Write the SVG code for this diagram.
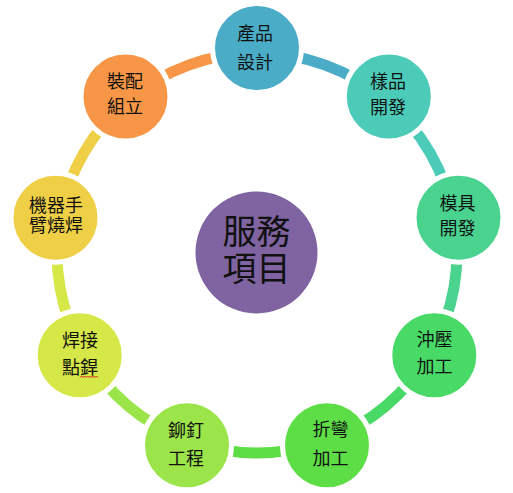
<svg xmlns="http://www.w3.org/2000/svg" width="513" height="493" viewBox="0 0 513 493">
<style>
.arc{fill:none;stroke-width:11}
.node{stroke:#fff;stroke-width:5}
text{font-family:"Noto Sans CJK TC","Noto Sans CJK SC",sans-serif;font-size:18px;fill:#111;text-anchor:middle}
.big{font-size:34px}
</style>
<rect width="513" height="493" fill="#fff"/>
<g id="connectors">
<path class="arc" stroke="#4AACC6" d="M257,53 A200,200 0 0 1 385.56,99.79"/>
<path class="arc" stroke="#4BCBB8" d="M385.56,99.79 A200,200 0 0 1 453.96,218.27"/>
<path class="arc" stroke="#49D38F" d="M453.96,218.27 A200,200 0 0 1 430.21,353"/>
<path class="arc" stroke="#48D966" d="M430.21,353 A200,200 0 0 1 325.4,440.94"/>
<path class="arc" stroke="#5EDE46" d="M325.4,440.94 A200,200 0 0 1 188.6,440.94"/>
<path class="arc" stroke="#9BE449" d="M188.6,440.94 A200,200 0 0 1 83.79,353"/>
<path class="arc" stroke="#D5E847" d="M83.79,353 A200,200 0 0 1 60.04,218.27"/>
<path class="arc" stroke="#EFCF45" d="M60.04,218.27 A200,200 0 0 1 128.44,99.79"/>
<path class="arc" stroke="#F79646" d="M128.44,99.79 A200,200 0 0 1 257,53"/>
</g>
<g id="center">
<circle cx="256.5" cy="252.5" r="61" fill="#8064A2"/>
<text class="big" x="256.5" y="244">服務</text>
<text class="big" x="256.5" y="281">項目</text>
</g>
<g id="n1">
<circle class="node" cx="257" cy="48" r="44.5" fill="#4AACC6"/>
<text x="255" y="40.3">產品</text><text x="255" y="68.8">設計</text>
</g>
<g id="n2">
<circle class="node" cx="388.8" cy="96.5" r="44.5" fill="#4BCBB8"/>
<text x="388" y="88.3">樣品</text><text x="388" y="114.3">開發</text>
</g>
<g id="n3">
<circle class="node" cx="458.5" cy="217.7" r="44.5" fill="#49D38F"/>
<text x="457.5" y="210.3">模具</text><text x="457.5" y="234.8">開發</text>
</g>
<g id="n4">
<circle class="node" cx="434.3" cy="355.3" r="44.5" fill="#48D966"/>
<text x="434.5" y="345.8">沖壓</text><text x="434.5" y="373.3">加工</text>
</g>
<g id="n5">
<circle class="node" cx="327" cy="445.3" r="44.5" fill="#5EDE46"/>
<text x="330.5" y="436.3">折彎</text><text x="330.5" y="465.3">加工</text>
</g>
<g id="n6">
<circle class="node" cx="187" cy="445.3" r="44.5" fill="#9BE449"/>
<text x="186" y="436.8">鉚釘</text><text x="186" y="465.3">工程</text>
</g>
<g id="n7">
<circle class="node" cx="79.7" cy="355.3" r="44.5" fill="#D5E847"/>
<text x="80" y="346.8">焊接</text><text x="80" y="373.8">點銲</text>
<path d="M80,377.5 l1.5,-1.5 l1.5,1.5 l1.5,-1.5 l1.5,1.5 l1.5,-1.5 l1.5,1.5 l1.5,-1.5 l1.5,1.5 l1.5,-1.5 l1.5,1.5 l1.5,-1.5 l1.5,1.5" fill="none" stroke="#E02020" stroke-width="1"/>
</g>
<g id="n8">
<circle class="node" cx="55.5" cy="217.7" r="44.5" fill="#EFCF45"/>
<text x="56" y="212.3">機器手</text><text x="56" y="232.3">臂燒焊</text>
</g>
<g id="n9">
<circle class="node" cx="125.5" cy="96.5" r="44.5" fill="#F79646"/>
<text x="125" y="87.8">裝配</text><text x="125" y="112.8">組立</text>
</g>
</svg>
